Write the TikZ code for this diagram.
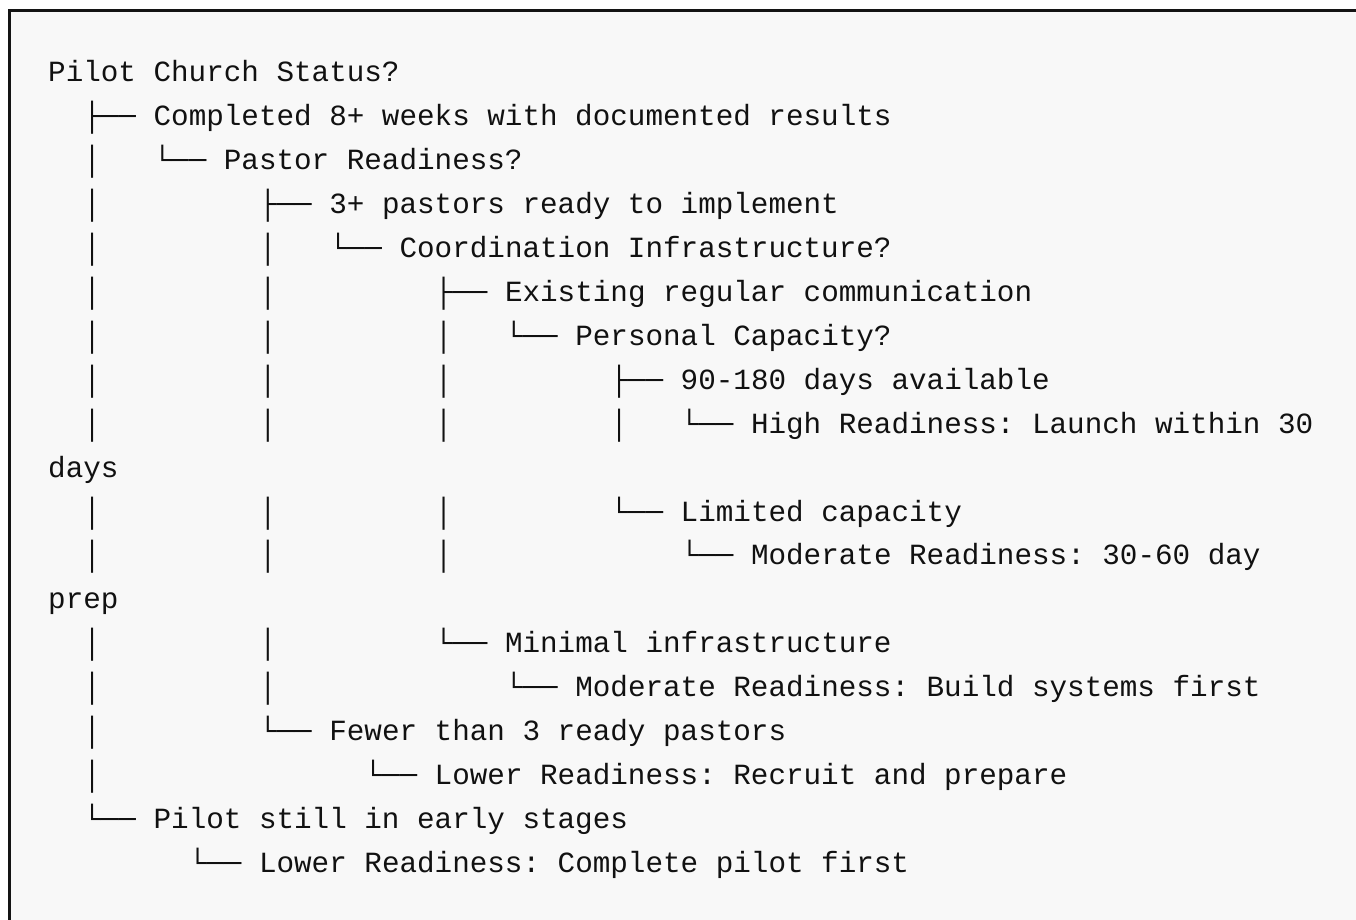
\documentclass[tikz,border=0pt]{standalone}
\usepackage{fontspec}
\newfontfamily\treemono{Liberation Mono}
\definecolor{pagebg}{HTML}{F8F8F8}
\definecolor{framecol}{HTML}{141414}
\definecolor{ink}{HTML}{111111}
\tikzset{
  treeline/.style={font=\treemono\fontsize{29.28}{43.9}\selectfont\frenchspacing, text=ink, inner sep=0pt, anchor=base west},
}
\begin{document}
\begin{tikzpicture}[x=1pt,y=-1pt]
\useasboundingbox (0,0) rectangle (1356,920);
\clip (0,0) rectangle (1356,920);
\fill[white] (0,0) rectangle (1356,920);
\fill[pagebg] (9.3,10.5) rectangle (1370,930);
\draw[framecol, line width=3pt] (9.3,930) -- (9.3,10.5) -- (1370,10.5);
\def\lh{43.9}
\node[treeline] (l1)  at (48,{82+0*\lh})  {Pilot Church Status?};
\node[treeline] (l2)  at (48,{82+1*\lh})  {~~├──~Completed 8+ weeks with documented results};
\node[treeline] (l3)  at (48,{82+2*\lh})  {~~│~~~└──~Pastor Readiness?};
\node[treeline] (l4)  at (48,{82+3*\lh})  {~~│~~~~~~~~~├──~3+ pastors ready to implement};
\node[treeline] (l5)  at (48,{82+4*\lh})  {~~│~~~~~~~~~│~~~└──~Coordination Infrastructure?};
\node[treeline] (l6)  at (48,{82+5*\lh})  {~~│~~~~~~~~~│~~~~~~~~~├──~Existing regular communication};
\node[treeline] (l7)  at (48,{82+6*\lh})  {~~│~~~~~~~~~│~~~~~~~~~│~~~└──~Personal Capacity?};
\node[treeline] (l8)  at (48,{82+7*\lh})  {~~│~~~~~~~~~│~~~~~~~~~│~~~~~~~~~├──~90-180 days available};
\node[treeline] (l9)  at (48,{82+8*\lh})  {~~│~~~~~~~~~│~~~~~~~~~│~~~~~~~~~│~~~└──~High Readiness: Launch within 30};
\node[treeline] (l10) at (48,{82+9*\lh})  {days};
\node[treeline] (l11) at (48,{82+10*\lh}) {~~│~~~~~~~~~│~~~~~~~~~│~~~~~~~~~└──~Limited capacity};
\node[treeline] (l12) at (48,{82+11*\lh}) {~~│~~~~~~~~~│~~~~~~~~~│~~~~~~~~~~~~~└──~Moderate Readiness: 30-60 day};
\node[treeline] (l13) at (48,{82+12*\lh}) {prep};
\node[treeline] (l14) at (48,{82+13*\lh}) {~~│~~~~~~~~~│~~~~~~~~~└──~Minimal infrastructure};
\node[treeline] (l15) at (48,{82+14*\lh}) {~~│~~~~~~~~~│~~~~~~~~~~~~~└──~Moderate Readiness: Build systems first};
\node[treeline] (l16) at (48,{82+15*\lh}) {~~│~~~~~~~~~└──~Fewer than 3 ready pastors};
\node[treeline] (l17) at (48,{82+16*\lh}) {~~│~~~~~~~~~~~~~~~└──~Lower Readiness: Recruit and prepare};
\node[treeline] (l18) at (48,{82+17*\lh}) {~~└──~Pilot still in early stages};
\node[treeline] (l19) at (48,{82+18*\lh}) {~~~~~~~~└──~Lower Readiness: Complete pilot first};
\end{tikzpicture}
\end{document}
